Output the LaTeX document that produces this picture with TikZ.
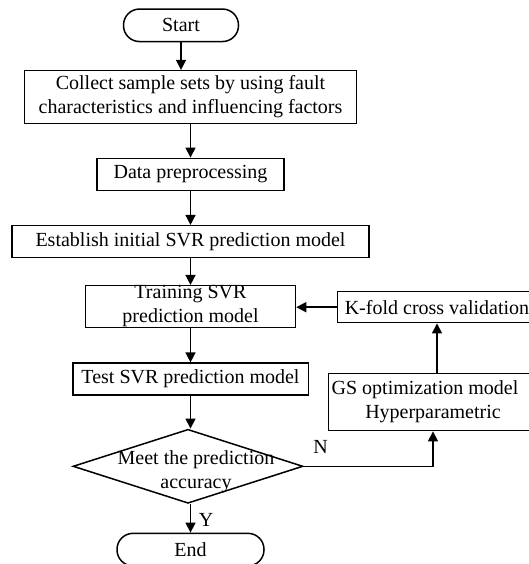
\documentclass[tikz,border=0pt]{standalone}
\usepackage{fontspec}
\setmainfont{Liberation Serif}
\usetikzlibrary{arrows.meta}
\usetikzlibrary{shapes.geometric}

\begin{document}
\begin{tikzpicture}[x=1pt,y=-1pt,line width=1.5pt,
    font=\fontsize{20}{24}\selectfont,
    box/.style={draw, rectangle, inner xsep=2pt, inner ysep=0pt, align=center},
    term/.style={draw, rectangle, rounded corners=16pt, minimum height=32.5pt, inner sep=0pt},
    arr/.style={-{Triangle[length=10pt,width=10pt]}}]
        \clip (0,0) rectangle (529,564);
        % main column
        \node[term, minimum width=115pt] (start) at (181,25.3) {Start};
        \node[box, minimum width=332pt, minimum height=52.7pt] (collect) at (190.5,97) {Collect sample sets by using fault\\characteristics and influencing factors};
        \node[box, minimum width=187pt, minimum height=32.4pt] (prep) at (190.5,174.5) {Data preprocessing};
        \node[box, minimum width=357pt, minimum height=32pt] (init) at (190.5,241.7) {Establish initial SVR prediction model};
        \node[box, minimum width=210pt, minimum height=41.7pt] (train) at (190.5,306.5) {Training SVR\\prediction model};
        \node[box, minimum width=235.5pt, minimum height=31.7pt] (test) at (190.5,379) {Test SVR prediction model};
        \node[draw, diamond, minimum width=230pt, minimum height=74pt, inner sep=0pt] (check) at (188,466.3) {};
        \node[align=center, inner sep=0pt] (checktext) at (196,472) {Meet the prediction\\accuracy};
        \node[term, minimum width=147pt] (finish) at (190.5,549.6) {End};
        % right column
        \node[box, minimum width=199pt, minimum height=31pt] (kfold) at (437,307.2) {K-fold cross validation};
        \node[box, minimum width=209pt, minimum height=57.3pt] (gs) at (433,402) {GS optimization model\hspace*{16pt}\\Hyperparametric};
        \node (ylab) at (206,520) {Y};
        \node (nlab) at (320.5,447) {N};
        % arrows
        \draw[arr] (start.south) -- (start.south |- collect.north);
        \draw[arr] (collect.south) -- (collect.south |- prep.north);
        \draw[arr] (prep.south) -- (prep.south |- init.north);
        \draw[arr] (init.south) -- (init.south |- train.north);
        \draw[arr] (train.south) -- (train.south |- test.north);
        \draw[arr] (test.south) -- (test.south |- check.north);
        \draw[arr] (check.south -| finish.north) -- (finish.north);
        \draw[arr] (check.east) -| (gs.south);
        \draw[arr] (kfold.south |- gs.north) -- (kfold.south);
        \draw[arr] (kfold.west) -- (kfold.west -| train.east);
\end{tikzpicture}
\end{document}
